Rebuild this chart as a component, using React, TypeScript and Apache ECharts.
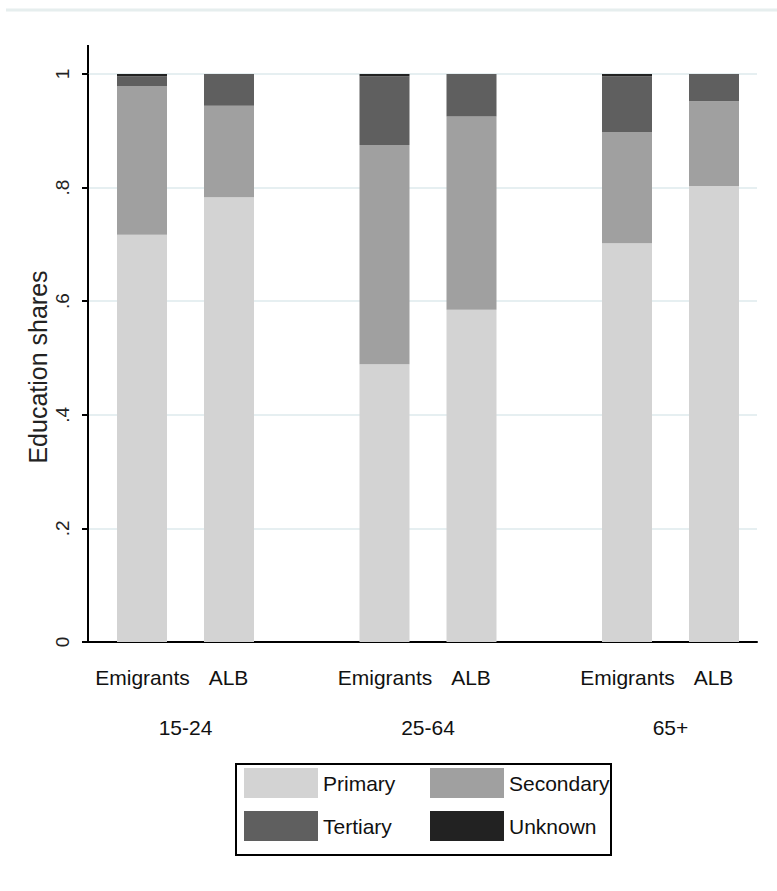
import React, { useEffect, useRef } from "react";
import * as echarts from "echarts";

const ageGroups = ["15-24", "25-64", "65+"];
const populations = ["Emigrants", "ALB"];
const educationLevels = ["Primary", "Secondary", "Tertiary", "Unknown"];
const levelColors = ["#d3d3d3", "#a0a0a0", "#5f5f5f", "#222222"];

const emigrantsPrimary = [0.717, 0.489, 0.702];
const emigrantsSecondary = [0.262, 0.386, 0.196];
const emigrantsTertiary = [0.017, 0.121, 0.098];
const emigrantsUnknown = [0.004, 0.004, 0.004];

const albPrimary = [0.783, 0.585, 0.803];
const albSecondary = [0.161, 0.34, 0.149];
const albTertiary = [0.056, 0.075, 0.048];
const albUnknown = [0, 0, 0];

const yTicks = [0, 0.2, 0.4, 0.6, 0.8, 1];

const FONT = "'Liberation Sans', Arial, sans-serif";

export default function App() {
  const ref = useRef<HTMLDivElement>(null);
  useEffect(() => {
    document.body.style.margin = "0";
    if (!ref.current) return;
    const chart = echarts.init(ref.current, null, { renderer: "svg" });
    const emData = [emigrantsPrimary, emigrantsSecondary, emigrantsTertiary, emigrantsUnknown];
    const albData = [albPrimary, albSecondary, albTertiary, albUnknown];
    const series: any[] = [];
    educationLevels.forEach((lvl, i) => {
      series.push({
        type: "bar",
        name: lvl,
        stack: "em",
        xAxisIndex: 1,
        yAxisIndex: 1,
        barWidth: 50,
        barGap: "74%",
        itemStyle: { color: levelColors[i] },
        data: emData[i],
      });
    });
    educationLevels.forEach((lvl, i) => {
      series.push({
        type: "bar",
        name: lvl,
        stack: "alb",
        xAxisIndex: 1,
        yAxisIndex: 1,
        barWidth: 50,
        barGap: "74%",
        itemStyle: { color: levelColors[i] },
        data: albData[i],
      });
    });
    const legendCommon = {
      orient: "vertical",
      itemWidth: 74,
      itemHeight: 30,
      itemGap: 13,
      padding: 0,
      icon: "rect",
      textStyle: { fontSize: 21, fontFamily: FONT, color: "#111" },
    };
    chart.setOption({
      animation: false,
      backgroundColor: "#ffffff",
      grid: [
        { left: 88, right: 20, top: 74, bottom: 249 },
        { left: 185.5, right: 106.5, top: 74, bottom: 249 },
      ],
      xAxis: [
        {
          type: "value",
          gridIndex: 0,
          min: 0,
          max: 1,
          axisLine: { show: true, lineStyle: { color: "#000", width: 2 } },
          axisTick: { show: false },
          axisLabel: { show: false },
          splitLine: { show: false },
        },
        {
          type: "category",
          gridIndex: 1,
          boundaryGap: false,
          data: ageGroups,
          axisLine: { show: false },
          axisTick: { show: false },
          splitLine: { show: false },
          axisLabel: {
            margin: 20,
            interval: 0,
            formatter: (v: string) =>
              `{e|${populations[0]}}{b|${populations[1]}}\n{g|${v}}`,
            rich: {
              e: { width: 86, align: "center", fontSize: 21, fontFamily: FONT, color: "#111", lineHeight: 30 },
              b: { width: 86, align: "center", fontSize: 21, fontFamily: FONT, color: "#111", lineHeight: 30 },
              g: { fontSize: 21, fontFamily: FONT, color: "#111", lineHeight: 70, align: "center" },
            },
          },
        },
      ],
      yAxis: [
        {
          type: "value",
          gridIndex: 0,
          min: 0,
          max: 1,
          interval: 0.2,
          name: "Education shares",
          nameLocation: "middle",
          nameRotate: 90,
          nameGap: 38,
          nameMoveOverlap: false,
          nameTextStyle: { fontSize: 25, fontFamily: FONT, color: "#222", padding: [0, 18, 0, 0] },
          axisLine: { show: true, lineStyle: { color: "#000", width: 2 } },
          axisTick: { show: true, length: 6, lineStyle: { color: "#000", width: 2 } },
          axisLabel: {
            rotate: 90,
            margin: 16,
            fontSize: 19,
            fontFamily: FONT,
            color: "#222",
            formatter: (v: number) => {
              const t = yTicks.find((x) => Math.abs(x - v) < 1e-6);
              if (t === undefined) return "";
              if (t === 0) return "0";
              if (t === 1) return "1";
              return t.toFixed(1).replace(/^0/, "");
            },
          },
          splitLine: { show: true, lineStyle: { color: "#e6eff1", width: 2 } },
        },
        {
          type: "value",
          gridIndex: 1,
          min: 0,
          max: 1,
          show: false,
          splitLine: { show: false },
        },
      ],
      legend: [
        { ...legendCommon, left: 244, top: 768, data: [educationLevels[0], educationLevels[2]] },
        { ...legendCommon, left: 430, top: 768, data: [educationLevels[1], educationLevels[3]] },
      ],
      graphic: [
        {
          type: "line",
          shape: { x1: 6, y1: 10, x2: 777, y2: 10 },
          style: { stroke: "#e6eeee", lineWidth: 3 },
          silent: true,
        },
        {
          type: "line",
          shape: { x1: 88, y1: 45, x2: 88, y2: 75 },
          style: { stroke: "#000", lineWidth: 2 },
          silent: true,
        },
        {
          type: "rect",
          shape: { x: 236, y: 764, width: 375, height: 91 },
          style: { fill: "none", stroke: "#000", lineWidth: 2 },
          silent: true,
        },
      ],
      series,
    });
    return () => chart.dispose();
  }, []);
  return <div ref={ref} style={{ width: 777, height: 891 }} />;
}
